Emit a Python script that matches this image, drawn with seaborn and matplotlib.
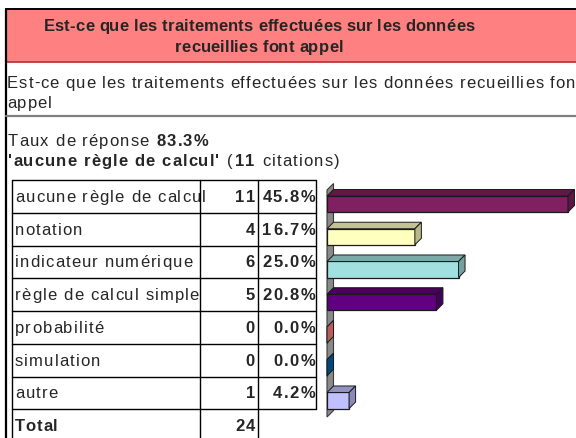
import matplotlib
matplotlib.use("Agg")
import matplotlib.pyplot as plt
import seaborn as sns
import numpy as np
from matplotlib.patches import Rectangle, Polygon
from matplotlib.lines import Line2D
from matplotlib.colors import to_rgb

# ---- data -------------------------------------------------------------
categories = ["aucune règle de calcul", "notation", "indicateur numérique",
              "règle de calcul simple", "probabilité", "simulation", "autre"]
counts = [11, 4, 6, 5, 0, 0, 1]
percents = [45.8, 16.7, 25.0, 20.8, 0.0, 0.0, 4.2]
total = 24
bar_colors = ["#802060", "#FFFFC0", "#A0E0E0", "#600080",
              "#FF8080", "#0066AA", "#C0C0FF"]

title_lines = ["Est-ce que les traitements effectuées sur les données",
               "recueillies font appel"]
question_lines = ["Est-ce que les traitements effectuées sur les données recueillies font",
                  "appel"]
response_rate = "83.3%"
top_answer = "'aucune règle de calcul'"
top_count = 11

# ---- style --------------------------------------------------------------
sns.set_theme(style="white")
plt.rcParams["font.family"] = ["Liberation Sans", "DejaVu Sans"]
FS = 12

W, H = 576, 438
fig = plt.figure(figsize=(W / 100, H / 100), dpi=100)

# full-figure canvas in pixel units (y downwards)
bg = fig.add_axes([0, 0, 1, 1])
bg.set_xlim(0, W)
bg.set_ylim(H, 0)
bg.axis("off")
renderer = fig.canvas.get_renderer()


def hline(y, x0, x1, color="black", lw=1.0):
    bg.add_line(Line2D([x0, x1], [y, y], color=color, lw=lw, zorder=3))


def vline(x, y0, y1, color="black", lw=1.0):
    bg.add_line(Line2D([x, x], [y0, y1], color=color, lw=lw, zorder=3))


_wcache = {}


def char_w(c, weight):
    """Advance width of one character, in pixels."""
    key = (c, weight)
    if key not in _wcache:
        t1 = bg.text(0, 0, "x" + c + "x", fontsize=FS, fontweight=weight)
        t2 = bg.text(0, 0, "xx", fontsize=FS, fontweight=weight)
        _wcache[key] = (t1.get_window_extent(renderer).width
                        - t2.get_window_extent(renderer).width)
        t1.remove()
        t2.remove()
    return _wcache[key]


def spaced_width(s, weight, track):
    return sum(char_w(c, weight) for c in s) + track * (len(s) - 1)


def spaced_text(x, yc, s, weight="normal", track=1.0, ha="left", zorder=4):
    """Draw letter-spaced text with its visual centre at yc; return end x."""
    w = spaced_width(s, weight, track)
    if ha == "right":
        x -= w
    elif ha == "center":
        x -= w / 2
    base = yc + 0.36 * FS * 100 / 72 * 0.72 + 1.2
    for c in s:
        if c != " ":
            bg.text(x, base, c, fontsize=FS, fontweight=weight,
                    ha="left", va="baseline", zorder=zorder)
        x += char_w(c, weight) + track
    return x


# header band
bg.add_patch(Rectangle((6, 9), W, 53, facecolor="#FF8080", edgecolor="none", zorder=1))
hline(9, 6, W, lw=1.4)
hline(62, 6, W, color="#B03030", lw=1.2)
vline(5.5, 9, H, lw=1.6)
hline(116, 6, W, color="#808080", lw=1.6)

for i, line in enumerate(title_lines):
    spaced_text(259, 25 + 21 * i, line, weight="bold", track=0.15, ha="center")

for i, line in enumerate(question_lines):
    spaced_text(7, 82 + 20 * i, line, track=0.95)


def rich_line(x, yc, parts, track):
    for txt, weight in parts:
        x = spaced_text(x, yc, txt, weight=weight, track=track) + track


rich_line(8, 140, [("Taux de réponse ", "normal"), (response_rate, "bold")], 1.1)
rich_line(8, 160, [(top_answer, "bold"), (" (", "normal"),
                   (str(top_count), "bold"), (" citations)", "normal")], 1.1)

# ---- frequency table ----------------------------------------------------
row_top = 180.0
row_h = 32.75
col_x = [12, 200, 258, 316]
n = len(categories)

for i in range(n + 2):
    y = row_top + row_h * i
    hline(y, col_x[0], col_x[3] if i <= n else col_x[2])
vline(col_x[0], row_top, H)
vline(col_x[1], row_top, H)
vline(col_x[2], row_top, H)
vline(col_x[3], row_top, row_top + row_h * n)

for i, (lab, c, p) in enumerate(zip(categories, counts, percents)):
    yc = row_top + row_h * (i + 0.5)
    spaced_text(15, yc, lab, track=1.1, zorder=2)
    spaced_text(col_x[2] - 3, yc, str(c), weight="bold", track=1.2,
                ha="right", zorder=2)
    spaced_text(col_x[3] - 1, yc, f"{p:.1f}%", weight="bold", track=1.4,
                ha="right", zorder=2)

yc = row_top + row_h * (n + 0.5)
spaced_text(15, yc, "Total", weight="bold", track=0.8)
spaced_text(col_x[2] - 3, yc, str(total), weight="bold", track=1.2, ha="right")

# ---- 3-D style bar chart --------------------------------------------------
ax_left, ax_right = 327, W
bar_c0 = 204.0                       # pixel centre of first bar front face
ax_top = bar_c0 - 0.5 * row_h
ax_bot = bar_c0 + (n - 0.5) * row_h
axb = fig.add_axes([ax_left / W, 1 - ax_bot / H,
                    (ax_right - ax_left) / W, (ax_bot - ax_top) / H])

sns.barplot(x=percents, y=categories, hue=categories, palette=bar_colors,
            orient="h", width=0.49, saturation=1, legend=False,
            edgecolor="#1a1a1a", linewidth=0.9, ax=axb)

px_per_pct = 241.0 / 45.8
xmax = (ax_right - ax_left) / px_per_pct
axb.set_xlim(0, xmax)
axb.set_ylim(n - 0.5, -0.5)
axb.axis("off")

dx = 6.5 / px_per_pct
dy = 6.5 / row_h


def shade(col, k):
    return tuple(np.clip(np.array(to_rgb(col)) * k, 0, 1))


# back wall
wall_top = (190 - bar_c0) / row_h
wall_bot = (417 - bar_c0) / row_h
axb.add_patch(Polygon([(0, wall_bot), (0, wall_top), (dx, wall_top - dy),
                       (dx, wall_bot - dy)], closed=True, facecolor="#8A8A8A",
                      edgecolor="#3a3a3a", lw=0.8, zorder=0.5, clip_on=False))

for p in list(axb.patches):
    if isinstance(p, Polygon):
        continue
    x0, w = p.get_x(), p.get_width()
    y0, h = p.get_y(), p.get_height()
    fc = p.get_facecolor()[:3]
    p.set_zorder(2)
    top = [(x0, y0), (x0 + w, y0), (x0 + w + dx, y0 - dy), (x0 + dx, y0 - dy)]
    side = [(x0 + w, y0), (x0 + w, y0 + h), (x0 + w + dx, y0 + h - dy),
            (x0 + w + dx, y0 - dy)]
    axb.add_patch(Polygon(top, closed=True, facecolor=shade(fc, 0.76),
                          edgecolor="#1a1a1a", lw=0.7, zorder=2.1, clip_on=False))
    axb.add_patch(Polygon(side, closed=True, facecolor=shade(fc, 0.72),
                          edgecolor="#1a1a1a", lw=0.7, zorder=2.1, clip_on=False))

fig.savefig("out.png", dpi=100)
